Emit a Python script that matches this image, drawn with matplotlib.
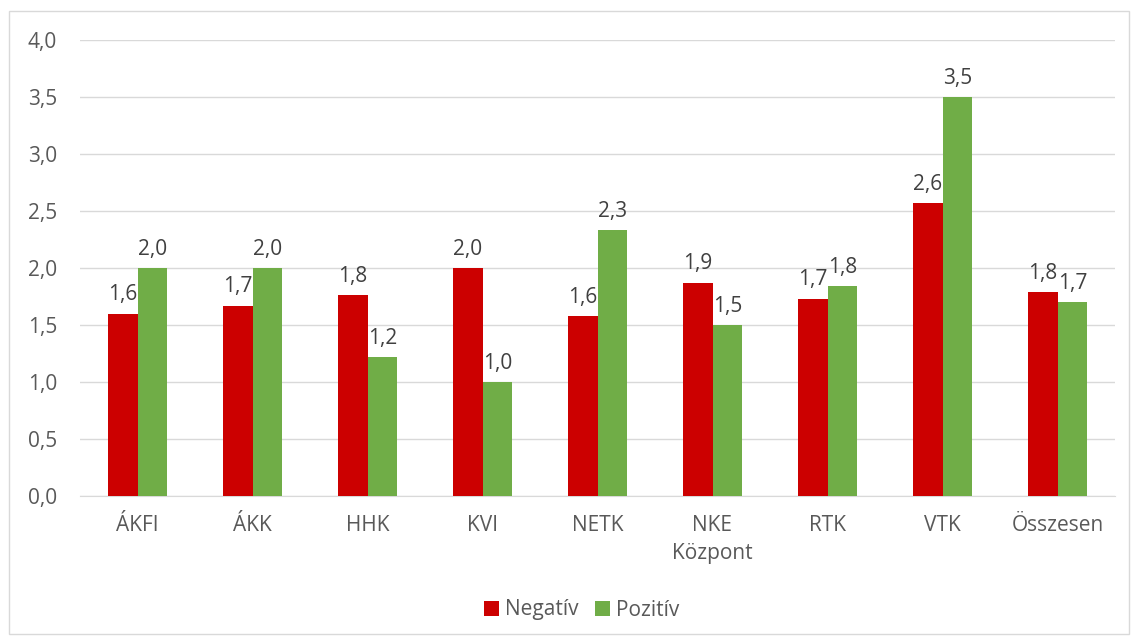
import numpy as np
import matplotlib.pyplot as plt
from matplotlib.patches import Rectangle

# --- DATA ---
categories = ["ÁKFI", "ÁKK", "HHK", "KVI", "NETK", "NKE\nKözpont", "RTK", "VTK", "Összesen"]
negativ = [1.60, 1.67, 1.76, 2.00, 1.58, 1.87, 1.73, 2.57, 1.79]
pozitiv = [2.00, 2.00, 1.22, 1.00, 2.33, 1.50, 1.84, 3.50, 1.70]
series_names = ["Negatív", "Pozitív"]

# --- STYLE ---
RED = "#CC0000"
GREEN = "#70AD47"
TEXT = "#595959"
plt.rcParams['font.family'] = ['Open Sans', 'DejaVu Sans']

fig = plt.figure(figsize=(11.36, 6.42), dpi=100)
ax = fig.add_axes([80 / 1136, 1 - 496 / 642, 1035 / 1136, 456 / 642])

# chart border
fig.patches.append(Rectangle((9 / 1136, 8 / 642), 1120 / 1136, 623 / 642,
                             transform=fig.transFigure, fill=False,
                             edgecolor="#D9D9D9", linewidth=1))

x = np.arange(len(categories))
w = 0.26
b1 = ax.bar(x - w / 2, negativ, w, color=RED, label=series_names[0], zorder=3)
b2 = ax.bar(x + w / 2, pozitiv, w, color=GREEN, label=series_names[1], zorder=3)

def fmt(v):
    return f"{v:.1f}".replace(".", ",")

for bars, vals in ((b1, negativ), (b2, pozitiv)):
    for rect, v in zip(bars, vals):
        ax.annotate(fmt(v), (rect.get_x() + rect.get_width() / 2, v),
                    xytext=(0, 6), textcoords="offset points",
                    ha="center", va="bottom", fontsize=15, color="#404040")

ax.set_xlim(-0.5, len(categories) - 0.5)
ax.set_ylim(0, 4.0)
ax.set_yticks(np.arange(0, 4.01, 0.5))
ax.set_yticklabels([fmt(t) for t in np.arange(0, 4.01, 0.5)])
ax.set_xticks(x)
ax.set_xticklabels(categories, linespacing=1.4)
ax.tick_params(axis="both", length=0, labelsize=15, colors=TEXT)
ax.tick_params(axis="y", pad=16.5)
ax.tick_params(axis="x", pad=14)

ax.grid(axis="y", color="#D9D9D9", linewidth=1, zorder=0)
for s in ["top", "right", "left"]:
    ax.spines[s].set_visible(False)
ax.spines["bottom"].set_color("#D9D9D9")

fig.legend(loc="center", bbox_to_anchor=(582 / 1136, 1 - 610 / 642), ncol=2,
           frameon=False, fontsize=15, labelcolor=TEXT, handlelength=0.7,
           handleheight=0.7, handletextpad=0.3, columnspacing=0.8)

fig.savefig("out.png", dpi=100)
